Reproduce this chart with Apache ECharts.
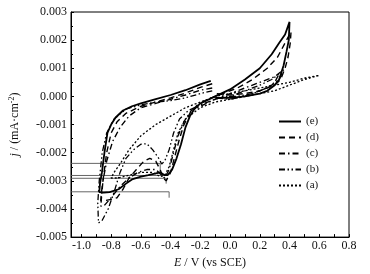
<!DOCTYPE html>
<html><head><meta charset="utf-8">
<script src="https://cdn.jsdelivr.net/npm/echarts@6/dist/echarts.min.js"></script>
<style>html,body{margin:0;padding:0;background:#fff}#c{width:370px;height:274px}</style>
</head><body><div id="c"></div>
<script>
// ---- data (E / V vs SCE, j / mA·cm^-2) ----
const curveE = [[-0.13,0.00055],[-0.2,0.00043],[-0.3,0.00022],[-0.4,0.00005],[-0.5,-0.0001],[-0.6,-0.00025],[-0.66,-0.00035],[-0.72,-0.0005],[-0.77,-0.00075],[-0.8,-0.001],[-0.825,-0.0013],[-0.845,-0.002],[-0.862,-0.0027],[-0.875,-0.0031],[-0.88,-0.0034],[-0.85,-0.00342],[-0.81,-0.0034],[-0.75,-0.0033],[-0.7,-0.0031],[-0.66,-0.00295],[-0.6,-0.00285],[-0.55,-0.0028],[-0.47,-0.0027],[-0.44,-0.0028],[-0.42,-0.0028],[-0.39,-0.0026],[-0.36,-0.0022],[-0.33,-0.0017],[-0.3,-0.0011],[-0.27,-0.0007],[-0.24,-0.00045],[-0.2,-0.00025],[-0.1,0.0],[0.0,0.00025],[0.1,0.0006],[0.2,0.001],[0.28,0.0015],[0.33,0.0019],[0.37,0.0022],[0.4,0.00265],[0.395,0.002],[0.38,0.0016],[0.36,0.0011],[0.33,0.0006],[0.3,0.0004],[0.25,0.0002],[0.2,0.0001],[0.1,0.0],[0.0,-0.00005],[-0.1,-0.00005]];
const curveD = [[-0.12,0.00045],[-0.2,0.00032],[-0.3,0.00012],[-0.4,-0.00005],[-0.5,-0.0002],[-0.6,-0.00035],[-0.7,-0.0006],[-0.76,-0.0009],[-0.8,-0.0013],[-0.83,-0.002],[-0.85,-0.0028],[-0.865,-0.0034],[-0.87,-0.0037],[-0.84,-0.0037],[-0.8,-0.00366],[-0.76,-0.0036],[-0.72,-0.0033],[-0.68,-0.0029],[-0.63,-0.0026],[-0.58,-0.0023],[-0.54,-0.0022],[-0.5,-0.0023],[-0.47,-0.0026],[-0.45,-0.0029],[-0.43,-0.003],[-0.4,-0.0027],[-0.37,-0.0021],[-0.34,-0.0015],[-0.31,-0.001],[-0.27,-0.0006],[-0.22,-0.0003],[-0.15,-0.0001],[-0.05,0.0001],[0.05,0.0003],[0.15,0.0006],[0.25,0.001],[0.32,0.0014],[0.37,0.0019],[0.41,0.0023],[0.405,0.0019],[0.39,0.0014],[0.37,0.001],[0.34,0.0006],[0.3,0.0004],[0.2,0.0002],[0.1,0.0001],[0.0,0.00005],[-0.1,0.0001]];
const curveC = [[-0.12,0.0003],[-0.2,0.00022],[-0.3,0.00005],[-0.4,-0.0001],[-0.5,-0.00025],[-0.6,-0.0004],[-0.68,-0.0007],[-0.74,-0.0011],[-0.79,-0.0016],[-0.83,-0.0023],[-0.855,-0.003],[-0.87,-0.0039],[-0.85,-0.0039],[-0.8,-0.0036],[-0.74,-0.0032],[-0.68,-0.0029],[-0.62,-0.0027],[-0.56,-0.0026],[-0.5,-0.0026],[-0.46,-0.0028],[-0.44,-0.0029],[-0.41,-0.0026],[-0.38,-0.002],[-0.35,-0.0014],[-0.31,-0.0009],[-0.26,-0.0005],[-0.18,-0.0003],[-0.1,-0.0001],[0.0,0.0001],[0.1,0.0003],[0.2,0.0005],[0.3,0.0007],[0.36,0.00095],[0.33,0.0006],[0.28,0.0004],[0.2,0.0002],[0.1,0.0],[0.0,-0.0001],[-0.1,-0.00005]];
const curveB = [[-0.12,0.0002],[-0.2,0.0001],[-0.3,-0.00005],[-0.4,-0.00015],[-0.5,-0.0002],[-0.6,-0.0003],[-0.7,-0.00045],[-0.78,-0.0008],[-0.83,-0.0013],[-0.86,-0.002],[-0.88,-0.003],[-0.89,-0.0038],[-0.885,-0.0045],[-0.86,-0.0044],[-0.82,-0.004],[-0.78,-0.0034],[-0.74,-0.0027],[-0.7,-0.0022],[-0.65,-0.0019],[-0.6,-0.0017],[-0.56,-0.00168],[-0.52,-0.0019],[-0.48,-0.0022],[-0.46,-0.0024],[-0.44,-0.0023],[-0.41,-0.0019],[-0.38,-0.0013],[-0.34,-0.0008],[-0.28,-0.0005],[-0.2,-0.0003],[-0.1,-0.0001],[0.0,0.0],[0.1,0.0002],[0.2,0.0004],[0.28,0.0006],[0.33,0.0008],[0.3,0.0005],[0.25,0.0003],[0.15,0.0001],[0.05,0.0],[-0.05,0.0]];
const curveA = [[-0.1,0.0],[-0.2,-0.0002],[-0.3,-0.0004],[-0.4,-0.0007],[-0.5,-0.001],[-0.6,-0.0014],[-0.68,-0.0019],[-0.74,-0.0024],[-0.78,-0.0027],[-0.8,-0.0029],[-0.75,-0.0029],[-0.68,-0.0028],[-0.6,-0.0027],[-0.52,-0.0027],[-0.47,-0.00285],[-0.44,-0.00281],[-0.41,-0.0025],[-0.38,-0.0019],[-0.35,-0.0013],[-0.3,-0.0008],[-0.2,-0.0004],[-0.1,-0.0002],[0.0,-0.0001],[0.1,0.0],[0.2,0.0001],[0.3,0.0002],[0.4,0.0004],[0.5,0.0006],[0.6,0.00075],[0.5,0.00065],[0.4,0.0005],[0.3,0.0004],[0.2,0.0003],[0.1,0.0002],[0.0,0.0001],[-0.1,0.0]];
// peak marker lines
const marker1 = [[-1.07,-0.00238],[-0.47,-0.00238],[-0.47,-0.0027]];
const marker2 = [[-1.07,-0.00281],[-0.44,-0.00281]];
const marker3 = [[-1.07,-0.00291],[-0.43,-0.00291],[-0.43,-0.0031]];
const marker4 = [[-1.07,-0.00339],[-0.41,-0.00339],[-0.41,-0.0036]];
const seriesNames = ['(e)','(d)','(c)','(b)','(a)'];
const xTickValues = [-1.0,-0.9,-0.8,-0.7,-0.6,-0.5,-0.4,-0.3,-0.2,-0.1,0.0,0.1,0.2,0.3,0.4,0.5,0.6,0.7,0.8];
const xLabelValues = [-1.0,-0.8,-0.6,-0.4,-0.2,0.0,0.2,0.4,0.6,0.8];

const FONT = '"Liberation Serif","Times New Roman",serif';
const chart = echarts.init(document.getElementById('c'), null, {renderer:'canvas'});
const curves = [curveE, curveD, curveC, curveB, curveA];
const styles = [
  {type:'solid', width:1.8},
  {type:[6,4], width:1.4},
  {type:[6,3,1.5,3], width:1.4},
  {type:[6,2.5,1.5,2.5,1.5,2.5], width:1.3},
  {type:[2,2], width:1.3}
];
const series = curves.map((d,i)=>({
  name: seriesNames[i], type:'line', data:d, showSymbol:false, symbol:'none',
  lineStyle:Object.assign({color:'#000'}, styles[i]), itemStyle:{color:'#000'},
  z: 10 - i, animation:false, silent:true
}));
[marker1,marker2,marker3,marker4].forEach(m=>series.push({
  type:'line', data:m, showSymbol:false, symbol:'none',
  lineStyle:{color:'#555', width:0.9}, animation:false, silent:true, z:1
}));

chart.setOption({
  animation:false,
  grid:{left:66, right:21, top:12, bottom:31, show:true, borderColor:'#000', borderWidth:1},
  legend:{
    data:seriesNames, orient:'vertical', left:278, top:116, itemWidth:22, itemHeight:10, itemGap:5,
    padding:0, textStyle:{fontFamily:FONT, fontSize:11, color:'#111'}, selectedMode:false,
    itemStyle:{opacity:0, borderWidth:0}
  },
  xAxis:{
    type:'value', min:-1.07, max:0.8,
    name:'{i|E} / V (vs SCE)', nameLocation:'middle', nameGap:15,
    nameTextStyle:{fontFamily:FONT, fontSize:12, color:'#111', rich:{i:{fontStyle:'italic', fontFamily:FONT, fontSize:12}}},
    axisLine:{onZero:false, lineStyle:{color:'#000', width:1}},
    axisTick:{inside:true, length:3, customValues:xTickValues, lineStyle:{color:'#000'}},
    axisLabel:{customValues:xLabelValues, margin:3, fontFamily:FONT, fontSize:12, color:'#111',
      formatter:v=>v.toFixed(1)},
    splitLine:{show:false}
  },
  yAxis:{
    type:'value', min:-0.005, max:0.003, interval:0.001,
    name:'{i|j} / (mA·cm{s|-2})', nameLocation:'middle', nameGap:50, nameRotate:90,
    nameTextStyle:{fontFamily:FONT, fontSize:12, color:'#111',
      rich:{i:{fontStyle:'italic', fontFamily:FONT, fontSize:12}, s:{fontFamily:FONT, fontSize:8, verticalAlign:'top', padding:[0,0,5,0]}}},
    axisLine:{onZero:false, lineStyle:{color:'#000', width:1}},
    axisTick:{inside:true, length:3, lineStyle:{color:'#000'}},
    minorTick:{show:true, splitNumber:2, length:2, lineStyle:{color:'#000'}},
    axisLabel:{margin:4, fontFamily:FONT, fontSize:12, color:'#111', formatter:v=>v.toFixed(3)},
    splitLine:{show:false}
  },
  series:series
});
</script></body></html>
